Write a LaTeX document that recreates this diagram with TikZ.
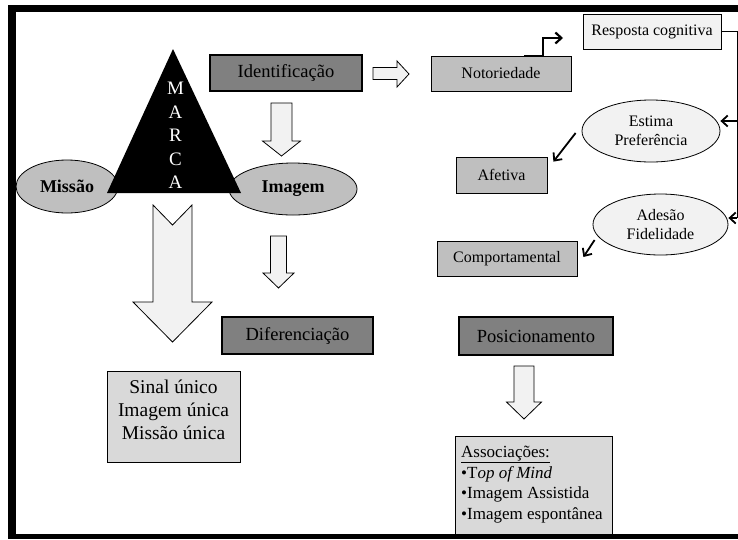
\documentclass[tikz,border=0pt]{standalone}
\usepackage{fontspec}
\setmainfont{Liberation Serif}
\usetikzlibrary{arrows.meta,calc,shapes.geometric}
\begin{document}
\begin{tikzpicture}[x=1pt,y=-1pt,
  box/.style={draw=black,line width=0.8pt,inner sep=0pt,align=center,
              font=\fontsize{16}{19}\selectfont},
  darkbox/.style={box,fill=black!50,line width=1.8pt,font=\fontsize{18.5}{22}\selectfont},
  midbox/.style={box,fill=black!25},
  palebox/.style={box,fill=black!5},
  listbox/.style={box,fill=black!15},
  oval/.style={ellipse,draw=black,line width=0.8pt,inner sep=0pt,align=center,
               font=\fontsize{16}{19}\selectfont},
  boldoval/.style={oval,fill=black!25,font=\bfseries\fontsize{18}{22}\selectfont},
  paleoval/.style={oval,fill=black!5},
  blockarrow/.style={draw=black,line width=0.8pt,fill=black!5,line join=miter},
  barb/.style={line width=1.8pt,-{Straight Barb[length=6pt,width=11pt]}},
  pics/dnarrow/.style n args={4}{code={
    \draw[blockarrow] (-#1,0) -- (#1,0) -- (#1,#3) -- (#2,#3) -- (0,#3+#4)
      -- (-#2,#3) -- (-#1,#3) -- cycle;}},
]
\useasboundingbox (0,0) rectangle (738,539);

% --- brand triangle with mission and image ---
\node[boldoval,minimum width=102pt,minimum height=53pt] (missao) at (67,186.5) {Missão};
\node[boldoval,minimum width=128pt,minimum height=52pt] (imagem) at (293,189) {Imagem};
\fill[black] (173,49) -- (107,193) -- (241,193) -- cycle;
\node[text=white,align=center,inner sep=0pt,font=\fontsize{19}{23.5}\selectfont]
  (marca) at (175.5,135.5) {M\\A\\R\\C\\A};

% --- left column ---
\node[darkbox,minimum width=152pt,minimum height=36pt] (ident) at (286,73) {Identificação};
\node[darkbox,minimum width=151pt,minimum height=37pt] (difer) at (297.5,335.5) {Diferenciação};
\node[listbox,minimum width=133pt,minimum height=91pt] (sinal) at (173.5,416.5) {};
\node[align=center,inner sep=0pt,font=\fontsize{19.5}{23}\selectfont]
  (sinaltxt) at (173.5,410) {Sinal único\\Imagem única\\Missão única};

% hollow block arrows
\pic at (281.5,103) {dnarrow={10.5}{19}{38}{15}};
\pic at (278.5,236) {dnarrow={8}{15.5}{37}{15}};
\draw[blockarrow] (153,205) -- (172.5,225) -- (192,205) -- (192,302) -- (212,302)
  -- (172.5,342) -- (133,302) -- (153,302) -- cycle;
\draw[blockarrow] (373,67.5) -- (397,67.5) -- (397,61) -- (409,74) -- (397,87)
  -- (397,79.5) -- (373,79.5) -- cycle;

% --- response hierarchy ---
\node[midbox,minimum width=140pt,minimum height=35pt] (noto) at (501,73.5) {Notoriedade};
\node[palebox,minimum width=138pt,minimum height=35pt] (resp) at (652,31.5) {Resposta cognitiva};
\node[paleoval,minimum width=138pt,minimum height=62pt] (estima) at (651,131) {Estima\\Preferência};
\node[midbox,minimum width=91pt,minimum height=36pt] (afetiva) at (501.5,175) {Afetiva};
\node[paleoval,minimum width=135pt,minimum height=61pt] (adesao) at (660.5,224.5) {Adesão\\Fidelidade};
\node[midbox,minimum width=140pt,minimum height=35pt] (comport) at (507,258.5) {Comportamental};

\coordinate (elbowend) at (563,38);
\draw[line width=2.2pt,-{Straight Barb[length=6pt,width=11pt]}]
  ($(noto.north)+(23,0)$) -- ++(19,0) |- (elbowend);

\coordinate (rtop) at (737,31.5);
\coordinate (rmid) at (737,121);
\coordinate (rbot) at (737,218);
\draw[line width=0.6pt] (resp.east) -- (rtop) -- (rbot);
\draw[barb] (rmid) -- (rmid -| estima.east);
\draw[barb] (rbot) -- (rbot -| adesao.east);
\draw[barb] ($(estima.west)+(-6,2)$) -- ($(afetiva.north east)+(6,5)$);
\draw[barb] ($(adesao.west)+(2,15.5)$) -- ($(comport.east)+(6,-1.5)$);

% --- positioning ---
\node[darkbox,minimum width=154pt,minimum height=38pt] (posic) at (536,336) {Posicionamento};
\pic at (524,366) {dnarrow={10}{17.5}{36}{17}};
\node[listbox,minimum width=157pt,minimum height=98pt] (assoc) at (533.5,485) {};
\node[anchor=north west,align=left,inner sep=0pt,font=\fontsize{17}{20.5}\selectfont]
  (assoctxt) at (461,446) {\underline{Associações:}\\•T\textit{op of Mind}\\•Imagem Assistida\\•Imagem espontânea};

% --- frame ---
\fill[black] (8,5) rectangle (16,539);
\fill[black] (8,5) rectangle (738,12);
\fill[black] (8,534) rectangle (738,539);
\end{tikzpicture}
\end{document}
